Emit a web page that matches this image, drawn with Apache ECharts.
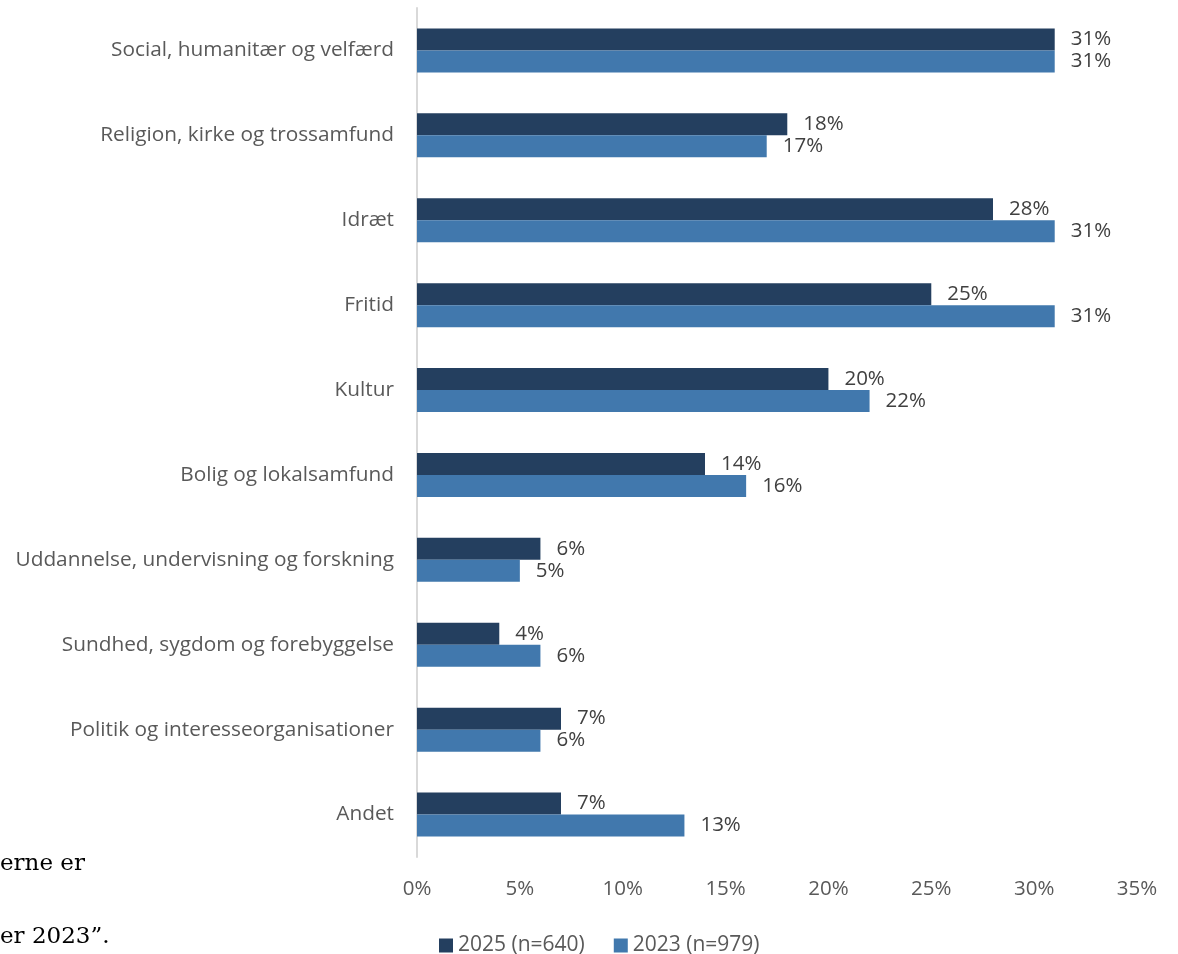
<!DOCTYPE html>
<html>
<head>
<meta charset="utf-8">
<script src="https://cdn.jsdelivr.net/npm/echarts@6/dist/echarts.min.js"></script>
<style>
html,body{margin:0;padding:0;background:#fff;}
#chart{width:1178px;height:954px;}
</style>
</head>
<body>
<div id="chart"></div>
<script>
const categories = [
  "Social, humanitær og velfærd",
  "Religion, kirke og trossamfund",
  "Idræt",
  "Fritid",
  "Kultur",
  "Bolig og lokalsamfund",
  "Uddannelse, undervisning og forskning",
  "Sundhed, sygdom og forebyggelse",
  "Politik og interesseorganisationer",
  "Andet"
];
const seriesNames = ["2025 (n=640)", "2023 (n=979)"];
const values2025 = [31, 18, 28, 25, 20, 14, 6, 4, 7, 7];
const values2023 = [31, 17, 31, 31, 22, 16, 5, 6, 6, 13];
const strayText = ["erne er", "er 2023\u201d."];

const FONT = "'Open Sans', sans-serif";
const chart = echarts.init(document.getElementById('chart'));
const labelCfg = {
  show: true, position: 'right', distance: 16,
  formatter: p => p.value + '%',
  color: '#404040', fontSize: 20.5, fontFamily: FONT
};
chart.setOption({
  animation: false,
  grid: { left: 417, right: 41, top: 8, bottom: 97, containLabel: false },
  xAxis: {
    type: 'value', min: 0, max: 35, interval: 5,
    axisLine: { show: false }, axisTick: { show: false },
    splitLine: { show: false },
    axisLabel: { formatter: '{value}%', color: '#595959', fontSize: 20.5, fontFamily: FONT, margin: 22 }
  },
  yAxis: {
    type: 'category', data: categories, inverse: true,
    axisLine: { show: true, lineStyle: { color: '#d9d9d9', width: 2 } },
    axisTick: { show: false },
    axisLabel: { color: '#595959', fontSize: 20.8, fontFamily: FONT, margin: 23 }
  },
  legend: {
    left: 434, top: 930, itemWidth: 14, itemHeight: 14, itemGap: 29, itemTextGap: 7,
    icon: 'rect',
    textStyle: { color: '#595959', fontSize: 21, fontFamily: FONT },
    data: seriesNames
  },
  series: [
    { name: seriesNames[0], type: 'bar', data: values2025, barWidth: 22, barGap: '0%',
      itemStyle: { color: '#243F5F' }, label: labelCfg },
    { name: seriesNames[1], type: 'bar', data: values2023, barWidth: 22, barGap: '0%',
      itemStyle: { color: '#4178AD' }, label: labelCfg }
  ],
  graphic: [
    { type: 'text', left: 0, top: 853, style: { text: strayText[0], font: "23px 'DejaVu Serif', serif", fill: '#000' } },
    { type: 'text', left: 0, top: 926, style: { text: strayText[1], font: "23px 'DejaVu Serif', serif", fill: '#000' } }
  ]
});
</script>
</body>
</html>
